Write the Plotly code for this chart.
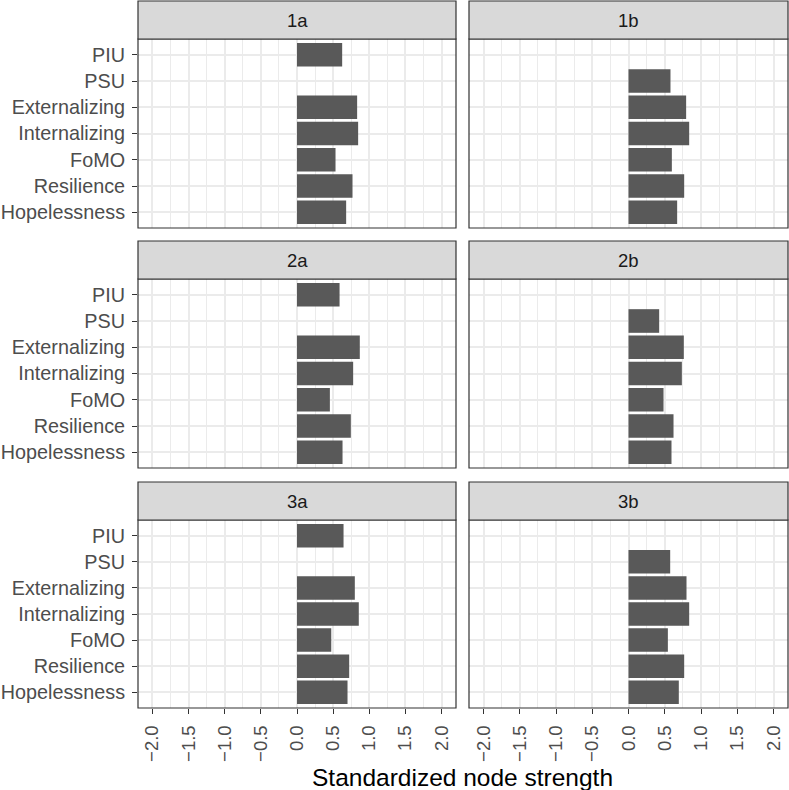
import plotly.graph_objects as go
from plotly.subplots import make_subplots

nodes = ["PIU", "PSU", "Externalizing", "Internalizing", "FoMO", "Resilience", "Hopelessness"]
panels = ["1a", "1b", "2a", "2b", "3a", "3b"]

v_1a = [0.625, None, 0.832, 0.846, 0.533, 0.768, 0.680]
v_1b = [None, 0.579, 0.795, 0.837, 0.598, 0.768, 0.671]
v_2a = [0.589, None, 0.869, 0.777, 0.455, 0.745, 0.630]
v_2b = [None, 0.423, 0.763, 0.736, 0.483, 0.621, 0.593]
v_3a = [0.644, None, 0.800, 0.855, 0.474, 0.722, 0.699]
v_3b = [None, 0.575, 0.800, 0.837, 0.543, 0.768, 0.694]
values = [v_1a, v_1b, v_2a, v_2b, v_3a, v_3b]

tick_vals = [-2.0, -1.5, -1.0, -0.5, 0.0, 0.5, 1.0, 1.5, 2.0]
tick_text = ["\u22122.0", "\u22121.5", "\u22121.0", "\u22120.5", "0.0", "0.5", "1.0", "1.5", "2.0"]
x_title = "Standardized node strength"

W, H = 789, 790
col_px = [(138, 456), (469, 788)]
row_px = [(39, 228), (279, 468), (520, 708)]
strip_h = 38

FONT = "Liberation Sans, Arial, Helvetica, sans-serif"
TICK_SIZE = 18.5
YTICK_SIZE = 19.8

fig = make_subplots(rows=3, cols=2)

shapes = []
annotations = []
for k, (name, vals) in enumerate(zip(panels, values)):
    r = k // 2 + 1
    c = k % 2 + 1
    fig.add_trace(go.Bar(x=vals, y=nodes, orientation="h",
                         marker=dict(color="#595959", line=dict(width=0)),
                         width=0.9, showlegend=False, hoverinfo="x+y"),
                  row=r, col=c)
    idx = k + 1
    sfx = "" if idx == 1 else str(idx)
    x0, x1 = col_px[c - 1]
    y0, y1 = row_px[r - 1]
    xdom = [x0 / W, x1 / W]
    ydom = [1 - y1 / H, 1 - y0 / H]
    fig.layout["xaxis" + sfx].update(
        domain=xdom, range=[-2.2, 2.2], tickvals=tick_vals, ticktext=tick_text,
        showticklabels=(r == 3), ticks="outside" if r == 3 else "", ticklen=5,
        tickcolor="#333333", tickwidth=1.2, tickangle=-90, ticklabelstandoff=4,
        tickfont=dict(family=FONT, size=TICK_SIZE, color="#4D4D4D"),
        showgrid=True, gridcolor="#EBEBEB", gridwidth=1.6, zeroline=False,
        minor=dict(dtick=0.25, tick0=0, showgrid=True, gridcolor="#EBEBEB", gridwidth=0.8),
        showline=False, fixedrange=True)
    fig.layout["yaxis" + sfx].update(
        domain=ydom, type="category", categoryorder="array", categoryarray=nodes,
        range=[6.6, -0.6], showticklabels=(c == 1), ticks="outside" if c == 1 else "",
        ticklen=5, tickcolor="#333333", tickwidth=1.2, ticklabelstandoff=3,
        tickfont=dict(family=FONT, size=YTICK_SIZE, color="#4D4D4D"),
        showgrid=True, gridcolor="#EBEBEB", gridwidth=1.6, zeroline=False,
        showline=False, fixedrange=True)
    shapes.append(dict(type="rect", xref="paper", yref="paper",
                       x0=xdom[0], x1=xdom[1], y0=ydom[0], y1=ydom[1],
                       line=dict(color="#333333", width=1.2), fillcolor="rgba(0,0,0,0)", layer="above"))
    sy1 = 1 - (y0 - strip_h) / H
    shapes.append(dict(type="rect", xref="paper", yref="paper",
                       x0=xdom[0], x1=xdom[1], y0=ydom[1], y1=sy1,
                       line=dict(color="#333333", width=1.2), fillcolor="#D9D9D9", layer="above"))
    annotations.append(dict(text=name, xref="paper", yref="paper",
                            x=(xdom[0] + xdom[1]) / 2, y=(ydom[1] + sy1) / 2,
                            xanchor="center", yanchor="middle", showarrow=False,
                            font=dict(family=FONT, size=TICK_SIZE, color="#1A1A1A")))

annotations.append(dict(text=x_title, xref="paper", yref="paper",
                        x=463 / W, y=1 - 777 / H, xanchor="center", yanchor="middle",
                        showarrow=False, font=dict(family=FONT, size=24.5, color="#000000")))

fig.update_layout(width=W, height=H, margin=dict(l=0, r=0, t=0, b=0),
                  paper_bgcolor="white", plot_bgcolor="white",
                  shapes=shapes, annotations=annotations, bargap=0.1,
                  font=dict(family=FONT))

fig.write_html("out.html", config={"displayModeBar": False},
               post_script="document.body.style.margin='0';document.body.style.overflow='hidden';")
